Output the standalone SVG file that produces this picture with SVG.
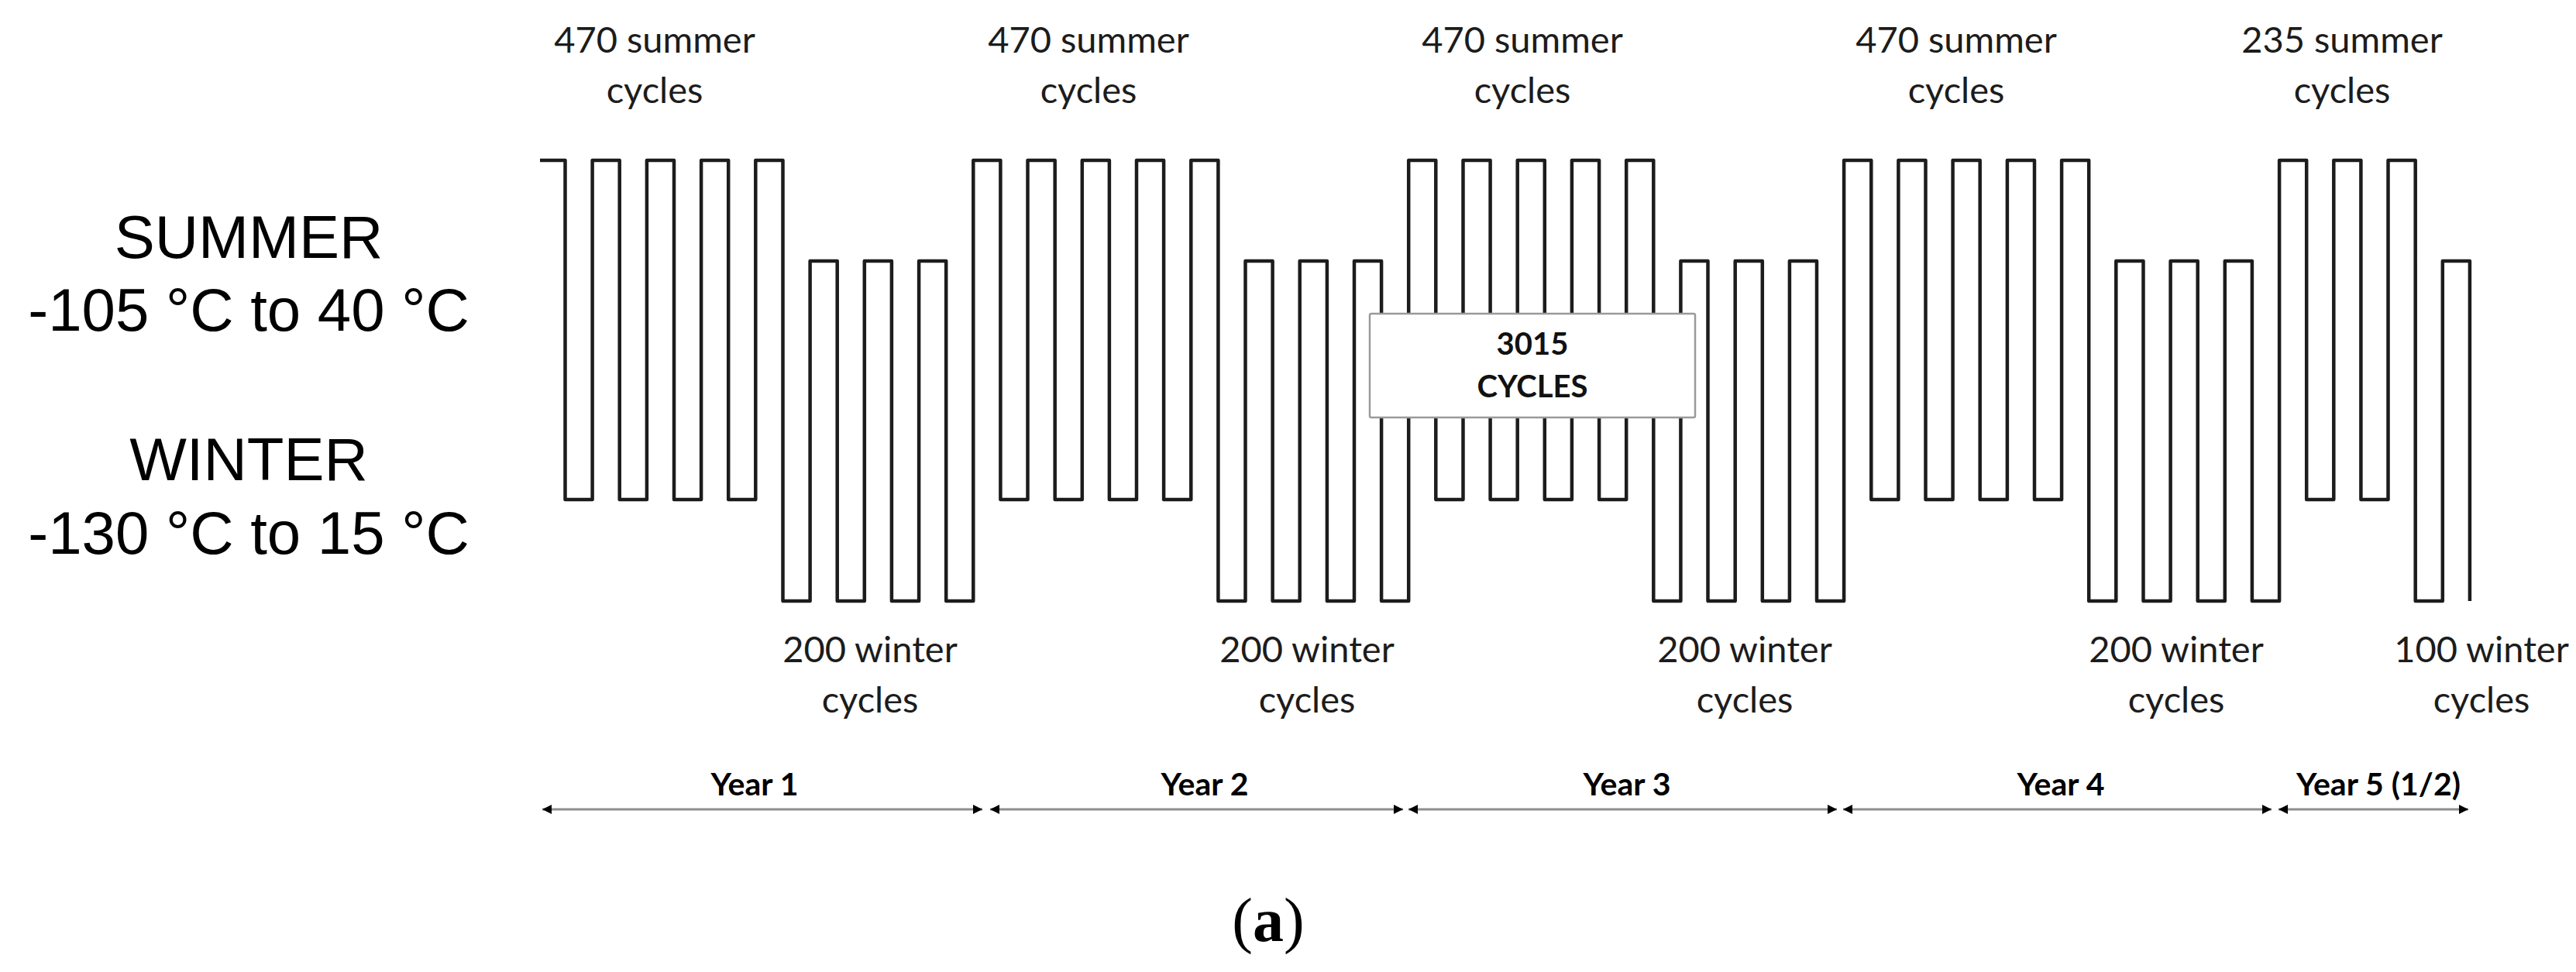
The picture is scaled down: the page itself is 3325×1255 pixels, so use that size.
<svg xmlns="http://www.w3.org/2000/svg" width="3325" height="1255" viewBox="0 0 3325 1255">
<style>
.bg{fill:#ffffff}
.wave{fill:none;stroke:#1c1c1c;stroke-width:4.5;stroke-linejoin:round;stroke-linecap:butt}
.side{font-family:"Liberation Sans",Arial,sans-serif;font-size:78px;fill:#000;text-anchor:middle}
.lbl{font-family:Lato,"Open Sans",sans-serif;font-size:47px;fill:#1c1c1c;text-anchor:middle}
.yr{font-family:Lato,"Open Sans",sans-serif;font-size:41px;font-weight:bold;fill:#000;text-anchor:middle}
.box{fill:#ffffff;stroke:#9a9a9a;stroke-width:2.5}
.boxt{font-family:Lato,"Open Sans",sans-serif;font-size:40px;font-weight:bold;fill:#111;text-anchor:middle}
.span{stroke:#8e8e8e;stroke-width:3;fill:none;marker-start:url(#ah);marker-end:url(#ah)}
.cap{font-family:"Liberation Serif","Times New Roman",serif;font-size:80px;fill:#000;text-anchor:middle}
</style>
<defs>
<marker id="ah" viewBox="0 0 12 12" refX="12" refY="6" markerWidth="12" markerHeight="12" markerUnits="userSpaceOnUse" orient="auto-start-reverse">
<path d="M0,0 L12,6 L0,12 Z" fill="#000"/>
</marker>
</defs>
<rect class="bg" x="0" y="0" width="3325" height="1255"/>

<g id="side-labels">
<g id="summer-label">
<text class="side" x="321" y="333">SUMMER</text>
<text class="side" x="321" y="427">-105 °C to 40 °C</text>
</g>
<g id="winter-label">
<text class="side" x="321" y="620">WINTER</text>
<text class="side" x="321" y="715">-130 °C to 15 °C</text>
</g>
</g>

<g id="waveform">
<path class="wave" d="M697,207 H729.5 V645 H764.6 V207 H799.7 V645 H834.9 V207 H870 V645 H905.1 V207 H940.2 V645 H975.3 V207 H1010.5 V776 H1045.6 V337 H1080.7 V776 H1115.8 V337 H1150.9 V776 H1186.1 V337 H1221.2 V776 H1256.3 V207
H1291.4 V645 H1326.5 V207 H1361.7 V645 H1396.8 V207 H1431.9 V645 H1467 V207 H1502.1 V645 H1537.3 V207 H1572.4 V776 H1607.5 V337 H1642.6 V776 H1677.7 V337 H1712.9 V776 H1748 V337 H1783.1 V776 H1818.2 V207
H1853.3 V645 H1888.5 V207 H1923.6 V645 H1958.7 V207 H1993.8 V645 H2028.9 V207 H2064.1 V645 H2099.2 V207 H2134.3 V776 H2169.4 V337 H2204.5 V776 H2239.7 V337 H2274.8 V776 H2309.9 V337 H2345 V776 H2380.1 V207
H2415.3 V645 H2450.4 V207 H2485.5 V645 H2520.6 V207 H2555.7 V645 H2590.9 V207 H2626 V645 H2661.1 V207 H2696.2 V776 H2731.3 V337 H2766.5 V776 H2801.6 V337 H2836.7 V776 H2871.8 V337 H2906.9 V776 H2942.1 V207
H2977.2 V645 H3012.3 V207 H3047.4 V645 H3082.5 V207 H3117.7 V776 H3152.8 V337 H3187.9 V776"/>
</g>

<g id="summer-counts">
<g id="summer-y1"><text class="lbl" x="845" y="68">470 summer</text><text class="lbl" x="845" y="133">cycles</text></g>
<g id="summer-y2"><text class="lbl" x="1405" y="68">470 summer</text><text class="lbl" x="1405" y="133">cycles</text></g>
<g id="summer-y3"><text class="lbl" x="1965" y="68">470 summer</text><text class="lbl" x="1965" y="133">cycles</text></g>
<g id="summer-y4"><text class="lbl" x="2525" y="68">470 summer</text><text class="lbl" x="2525" y="133">cycles</text></g>
<g id="summer-y5"><text class="lbl" x="3023" y="68">235 summer</text><text class="lbl" x="3023" y="133">cycles</text></g>
</g>

<g id="winter-counts">
<g id="winter-y1"><text class="lbl" x="1123" y="855">200 winter</text><text class="lbl" x="1123" y="920">cycles</text></g>
<g id="winter-y2"><text class="lbl" x="1687" y="855">200 winter</text><text class="lbl" x="1687" y="920">cycles</text></g>
<g id="winter-y3"><text class="lbl" x="2252" y="855">200 winter</text><text class="lbl" x="2252" y="920">cycles</text></g>
<g id="winter-y4"><text class="lbl" x="2809" y="855">200 winter</text><text class="lbl" x="2809" y="920">cycles</text></g>
<g id="winter-y5"><text class="lbl" x="3203" y="855">100 winter</text><text class="lbl" x="3203" y="920">cycles</text></g>
</g>

<g id="total-box">
<rect class="box" x="1768" y="405" width="420" height="134" rx="2"/>
<text class="boxt" x="1978" y="458">3015</text>
<text class="boxt" x="1978" y="513">CYCLES</text>
</g>

<g id="connectors">
<line class="span" x1="700" y1="1045" x2="1268" y2="1045"/>
<line class="span" x1="1278" y1="1045" x2="1811" y2="1045"/>
<line class="span" x1="1818" y1="1045" x2="2371" y2="1045"/>
<line class="span" x1="2379" y1="1045" x2="2932" y2="1045"/>
<line class="span" x1="2941" y1="1045" x2="3186" y2="1045"/>
</g>

<g id="year-labels">
<text id="year1" class="yr" x="974" y="1027">Year 1</text>
<text id="year2" class="yr" x="1555" y="1027">Year 2</text>
<text id="year3" class="yr" x="2100" y="1027">Year 3</text>
<text id="year4" class="yr" x="2660" y="1027">Year 4</text>
<text id="year5" class="yr" x="3070" y="1027">Year 5 (1/2)</text>
</g>

<g id="caption">
<text class="cap" x="1637" y="1215">(<tspan font-weight="bold">a</tspan>)</text>
</g>
</svg>
